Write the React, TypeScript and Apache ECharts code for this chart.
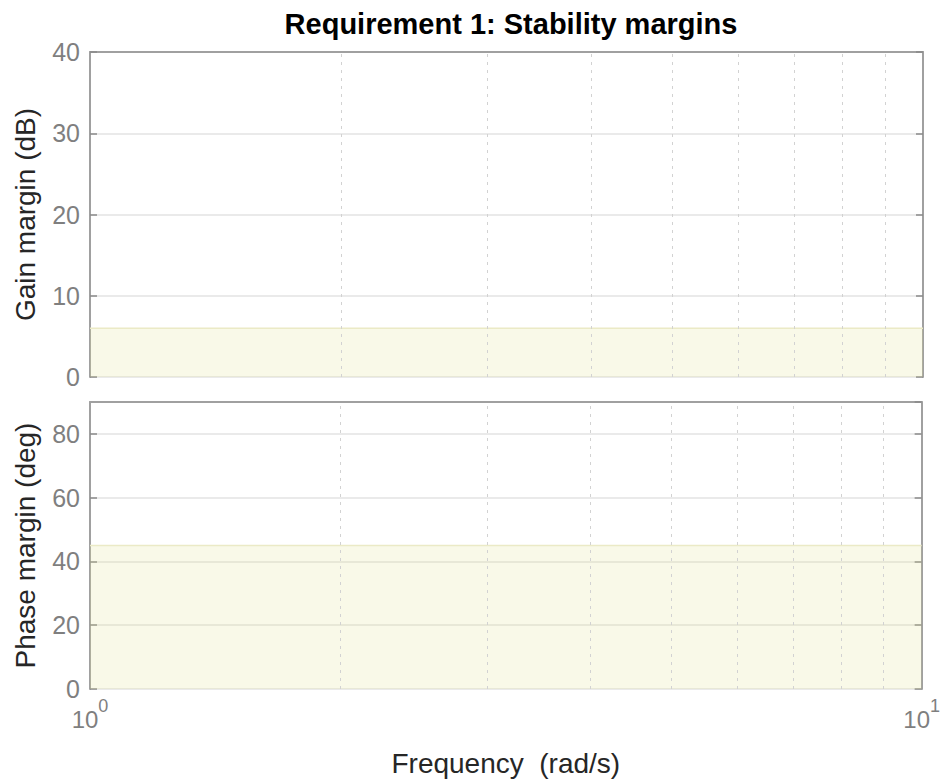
import React, { useEffect, useRef } from "react";
import * as echarts from "echarts";

const titleText = "Requirement 1: Stability margins";
const xAxisName = "Frequency  (rad/s)";
const gainAxisName = "Gain margin (dB)";
const phaseAxisName = "Phase margin (deg)";

const freqRange = [1, 10];
const minorFreqs = [2, 3, 4, 5, 6, 7, 8, 9];

const gainRange = [0, 40];
const gainInterval = 10;
const gainMarginReq = 6;

const phaseRange = [0, 90];
const phaseInterval = 20;
const phaseMarginReq = 45;

const FONT = "'Liberation Sans', Arial, Helvetica, sans-serif";
const TICK_COLOR = "#7f7f7f";
const AXIS_COLOR = "#a0a0a0";
const GRID_COLOR = "#e3e3e3";
const DOT_COLOR = "#d2d2d2";
const FILL = "rgba(225,225,145,0.3)";
const EDGE = "#ebeac6";

export default function App() {
  const ref = useRef<HTMLDivElement>(null);

  useEffect(() => {
    if (!ref.current) return;
    const chart = echarts.init(ref.current, null, { renderer: "svg" });

    const grids = [
      { left: 90, top: 52, width: 833, height: 325 },
      { left: 90, top: 402, width: 833, height: 287 },
    ];

    const hiddenX = (gridIndex: number, position: string, line: boolean) => ({
      type: "log",
      logBase: 10,
      min: freqRange[0],
      max: freqRange[1],
      gridIndex,
      position,
      axisLine: { show: line, onZero: false, lineStyle: { color: AXIS_COLOR, width: 2 } },
      axisTick: { show: false },
      axisLabel: { show: false },
      splitLine: { show: false },
    });

    const leftY = (gridIndex: number, range: number[], interval: number, name: string, hideMax: boolean) => ({
      type: "value",
      gridIndex,
      position: "left",
      min: range[0],
      max: range[1],
      interval,
      name,
      nameLocation: "middle",
      nameGap: 51,
      nameTextStyle: { color: "#262626", fontSize: 28, fontFamily: FONT },
      axisLine: { show: true, onZero: false, lineStyle: { color: AXIS_COLOR, width: 2 } },
      axisTick: { show: true, inside: true, length: 7, lineStyle: { color: "#8a8a8a", width: 1.5 } },
      axisLabel: {
        show: true,
        margin: 10,
        color: TICK_COLOR,
        fontSize: 25,
        fontFamily: FONT,
        showMaxLabel: !hideMax,
      },
      splitLine: { show: true, lineStyle: { color: GRID_COLOR, width: 1.5 } },
    });

    const rightY = (gridIndex: number, range: number[], interval: number) => ({
      type: "value",
      gridIndex,
      position: "right",
      min: range[0],
      max: range[1],
      interval,
      axisLine: { show: true, onZero: false, lineStyle: { color: AXIS_COLOR, width: 2 } },
      axisTick: { show: true, inside: true, length: 7, lineStyle: { color: "#8a8a8a", width: 1.5 } },
      axisLabel: { show: false },
      splitLine: { show: false },
    });

    const minorLines = {
      silent: true,
      symbol: ["none", "none"],
      label: { show: false },
      lineStyle: { color: DOT_COLOR, type: [3, 5], width: 1 },
      data: minorFreqs.map((f) => ({ xAxis: f })),
    };

    const reqSeries = (xi: number, yi: number, value: number) => ({
      type: "line",
      xAxisIndex: xi,
      yAxisIndex: yi,
      data: [
        [freqRange[0], value],
        [freqRange[1], value],
      ],
      symbol: "none",
      lineStyle: { color: EDGE, width: 1.5 },
      areaStyle: { color: FILL, origin: "start" },
      markLine: minorLines,
      z: 3,
    });

    chart.setOption({
      animation: false,
      backgroundColor: "#ffffff",
      title: {
        text: titleText,
        left: 506,
        textAlign: "center",
        top: 4,
        textStyle: { color: "#000", fontSize: 29, fontWeight: "bold", fontFamily: FONT },
      },
      grid: grids,
      xAxis: [
        hiddenX(0, "bottom", false),
        hiddenX(0, "top", true),
        {
          type: "log",
          logBase: 10,
          min: freqRange[0],
          max: freqRange[1],
          gridIndex: 1,
          position: "bottom",
          name: xAxisName,
          nameLocation: "middle",
          nameGap: 60,
          nameTextStyle: { color: "#262626", fontSize: 28, fontFamily: FONT },
          axisLine: { show: false },
          axisTick: { show: false },
          splitLine: { show: false },
          axisLabel: {
            show: true,
            margin: 8,
            fontFamily: FONT,
            color: TICK_COLOR,
            formatter: (v: number) => `{b|10}{s|${Math.round(Math.log10(v))}}`,
            rich: {
              b: { fontSize: 24, lineHeight: 34, verticalAlign: "bottom", color: TICK_COLOR, fontFamily: FONT },
              s: { fontSize: 18, lineHeight: 18, verticalAlign: "top", color: TICK_COLOR, fontFamily: FONT },
            },
          },
        },
        hiddenX(1, "top", true),
      ],
      yAxis: [
        leftY(0, gainRange, gainInterval, gainAxisName, false),
        rightY(0, gainRange, gainInterval),
        leftY(1, phaseRange, phaseInterval, phaseAxisName, true),
        rightY(1, phaseRange, phaseInterval),
      ],
      series: [reqSeries(0, 0, gainMarginReq), reqSeries(2, 2, phaseMarginReq)],
    });

    return () => chart.dispose();
  }, []);

  return (
    <div
      ref={ref}
      style={{ position: "fixed", left: 0, top: 0, width: 943, height: 781, background: "#fff" }}
    />
  );
}
